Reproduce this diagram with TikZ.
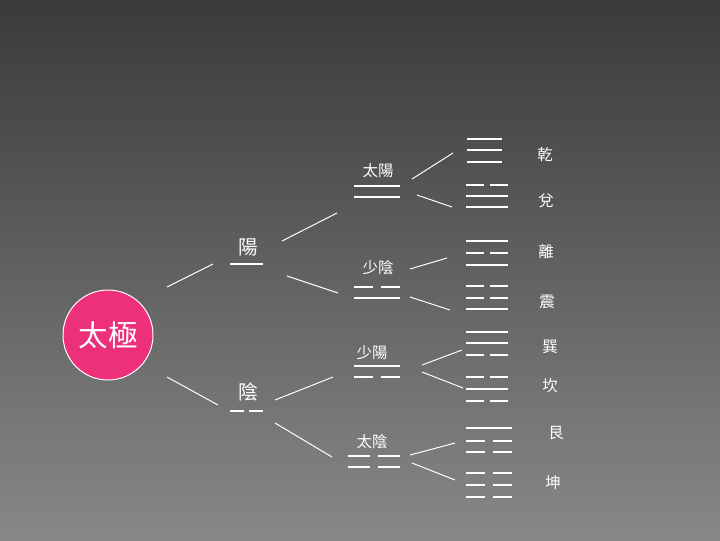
\documentclass[tikz,border=0pt]{standalone}
\usepackage{fontspec}
\newfontfamily\cjk{Noto Sans CJK TC}
\definecolor{bgtop}{RGB}{58,58,58}
\definecolor{bgbottom}{RGB}{136,136,136}
\definecolor{taijipink}{RGB}{236,48,122}
\tikzset{
  yao/.style={white, line width=0.8pt},
  branch/.style={white, line width=0.7pt},
  lbl/.style={text=white, inner sep=1pt, font=\cjk\fontsize{11}{11}\selectfont},
}
% solid and broken lines: {x1}{x2}{y}
\newcommand{\yangline}[3]{\draw[yao] (#1,#3) -- (#2,#3);}
\newcommand{\yinline}[3]{\draw[yao] (#1,#3) -- ({#1+(#2-#1)*0.42},#3) ({#1+(#2-#1)*0.58},#3) -- (#2,#3);}
\begin{document}
\begin{tikzpicture}[x=0.025cm, y=-0.025cm]
		\shade[top color=bgtop, bottom color=bgbottom] (0,0) rectangle (720,540);
		\useasboundingbox (0,0) rectangle (720,540);

		\node[circle, draw=white, line width=0.7pt, fill=taijipink, minimum size=90*0.025cm,
		      text=white, font=\cjk\fontsize{21}{21}\selectfont] (taiji) at (108,335) {太極};

		\node[lbl, font=\cjk\fontsize{14}{14}\selectfont] (yang) at (248,247) {陽};
		\node[lbl, font=\cjk\fontsize{14}{14}\selectfont] (yin) at (248,392) {陰};
		\yangline{230}{263}{264}
		\yinline{230}{263}{411}

		\node[lbl] (taiyang) at (378,171) {太陽};
		\node[lbl] (shaoyin) at (378,268) {少陰};
		\node[lbl] (shaoyang) at (372,353) {少陽};
		\node[lbl] (taiyin) at (372,442) {太陰};
		\yangline{354}{400}{186} \yangline{354}{400}{197}
		\yinline{354}{400}{287}  \yangline{354}{400}{298}
		\yangline{354}{400}{366} \yinline{354}{400}{377}
		\yinline{348}{400}{456}  \yinline{348}{400}{467}

		\node[lbl] (qian) at (545,155) {乾};
		\node[lbl] (dui) at (546,201) {兌};
		\node[lbl] (li) at (546,252) {離};
		\node[lbl] (zhen) at (547,302) {震};
		\node[lbl] (xun) at (550,347) {巽};
		\node[lbl] (kan) at (550,386) {坎};
		\node[lbl] (gen) at (556,433) {艮};
		\node[lbl] (kun) at (553,483) {坤};

		\yangline{467}{502}{139} \yangline{467}{502}{150} \yangline{467}{502}{162}
		\yinline{466}{508}{185}  \yangline{466}{508}{196} \yangline{466}{508}{207}
		\yangline{466}{508}{241} \yinline{466}{508}{253}  \yangline{466}{508}{265}
		\yinline{466}{508}{286}  \yinline{466}{508}{298}  \yangline{466}{508}{309}
		\yangline{466}{508}{332} \yangline{466}{508}{343} \yinline{466}{508}{355}
		\yinline{466}{508}{377}  \yangline{466}{508}{389} \yinline{466}{508}{401}
		\yangline{466}{512}{428} \yinline{466}{512}{441}  \yinline{466}{512}{452}
		\yinline{466}{512}{473}  \yinline{466}{512}{485}  \yinline{466}{512}{497}

		% branch ends
		\coordinate (t-up) at (167,287);   \coordinate (yang-in) at (213,264);
		\coordinate (t-dn) at (167,377);   \coordinate (yin-in) at (218,405);
		\coordinate (yang-a) at (282,241); \coordinate (taiyang-in) at (337,213);
		\coordinate (yang-b) at (287,276); \coordinate (shaoyin-in) at (338,293);
		\coordinate (yin-a) at (275,400);  \coordinate (shaoyang-in) at (333,377);
		\coordinate (yin-b) at (275,423);  \coordinate (taiyin-in) at (332,457);
		\coordinate (ty-a) at (412,179);   \coordinate (qian-in) at (453,153);
		\coordinate (ty-b) at (417,195);   \coordinate (dui-in) at (452,207);
		\coordinate (sy-a) at (410,269);   \coordinate (li-in) at (447,258);
		\coordinate (sy-b) at (410,297);   \coordinate (zhen-in) at (450,310);
		\coordinate (sg-a) at (422,365);   \coordinate (xun-in) at (462,350);
		\coordinate (sg-b) at (422,372);   \coordinate (kan-in) at (463,388);
		\coordinate (tg-a) at (410,455);   \coordinate (gen-in) at (455,443);
		\coordinate (tg-b) at (412,463);   \coordinate (kun-in) at (455,480);

		\draw[branch] (t-up) -- (yang-in);
		\draw[branch] (t-dn) -- (yin-in);
		\draw[branch] (yang-a) -- (taiyang-in);
		\draw[branch] (yang-b) -- (shaoyin-in);
		\draw[branch] (yin-a) -- (shaoyang-in);
		\draw[branch] (yin-b) -- (taiyin-in);
		\draw[branch] (ty-a) -- (qian-in);
		\draw[branch] (ty-b) -- (dui-in);
		\draw[branch] (sy-a) -- (li-in);
		\draw[branch] (sy-b) -- (zhen-in);
		\draw[branch] (sg-a) -- (xun-in);
		\draw[branch] (sg-b) -- (kan-in);
		\draw[branch] (tg-a) -- (gen-in);
		\draw[branch] (tg-b) -- (kun-in);

	\end{tikzpicture}
\end{document}
